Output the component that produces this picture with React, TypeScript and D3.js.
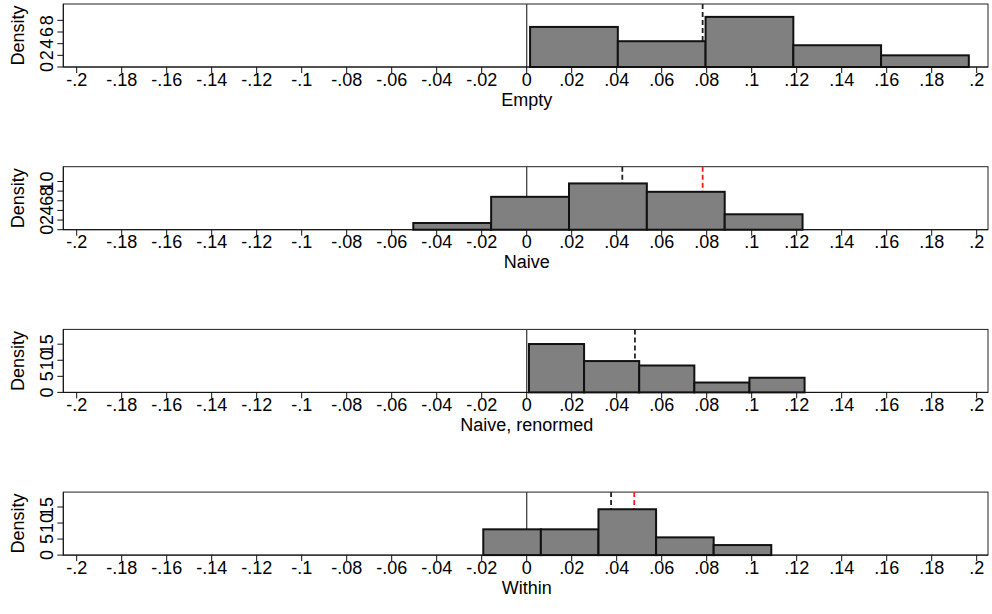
import React from "react";
import * as d3 from "d3";

// Panel titles
const titles = ["Empty", "Naive", "Naive, renormed", "Within"];

// Histogram bins: first bin edge and bin width per panel
const binStarts = [0.0015, -0.0504, 0.001, -0.0193];
const binWidths = [0.039, 0.0346, 0.0245, 0.0256];

// Bar densities per panel
const densities = [
  [6.87, 4.42, 8.59, 3.73, 2.0],
  [1.39, 6.82, 9.6, 7.86, 3.2],
  [15.05, 9.75, 8.37, 3.07, 4.56],
  [8.04, 8.04, 14.3, 5.53, 3.13],
];

// Reference lines: black dashed and red dashed (null when absent)
const blackLines = [0.0782, 0.0425, 0.0481, 0.0375];
const redLines: (number | null)[] = [null, 0.0782, null, 0.0478];

// Y axis range top and tick values
const yMaxes = [10.8, 13.07, 19.6, 19.65];
const yTicks = [
  [0, 2, 4, 6, 8],
  [0, 2, 4, 6, 8, 10],
  [0, 5, 10, 15],
  [0, 5, 10, 15],
];

// X axis ticks
const xTicks = [-0.2, -0.18, -0.16, -0.14, -0.12, -0.1, -0.08, -0.06, -0.04, -0.02, 0,
  0.02, 0.04, 0.06, 0.08, 0.1, 0.12, 0.14, 0.16, 0.18, 0.2];

const W = 992;
const H = 614;
const FONT = "'Liberation Sans', Arial, Helvetica, sans-serif";
const FS = 18;

const plotLeft = 63.3;
const plotRight = 988;
const panelTop0 = 4;
const panelStep = 162.7;
const panelHeight = 63;

// Stata-style numbers: no leading zero ("-.18", ".02", "0")
const fmt = (v: number) => {
  if (Math.abs(v) < 1e-9) return "0";
  const s = String(+v.toFixed(4));
  return s.replace(/^(-?)0\./, "$1.");
};

export default function App() {
  const x = d3.scaleLinear().domain([-0.2, 0.2]).range([76.7, 976.7]);

  return (
    <svg
      width={W}
      height={H}
      style={{ position: "absolute", left: 0, top: 0, background: "#fff" }}
      fontFamily={FONT}
    >
      <rect x={0} y={0} width={W} height={H} fill="#fff" />
      {titles.map((title, i) => {
        const top = panelTop0 + i * panelStep;
        const bottom = top + panelHeight;
        const y = d3.scaleLinear().domain([0, yMaxes[i]]).range([bottom, top]);
        const bins = densities[i].map((d, k) => ({
          x0: binStarts[i] + k * binWidths[i],
          x1: binStarts[i] + (k + 1) * binWidths[i],
          d,
        }));
        const red = redLines[i];
        return (
          <g key={title}>
            {/* plot frame */}
            <rect
              x={plotLeft}
              y={top}
              width={plotRight - plotLeft}
              height={panelHeight}
              fill="none"
              stroke="#222"
              strokeWidth={1}
            />
            {/* reference lines, drawn beneath the bars */}
            <line x1={x(0)} x2={x(0)} y1={top} y2={bottom} stroke="#444" strokeWidth={1.3} />
            <line
              x1={x(blackLines[i])}
              x2={x(blackLines[i])}
              y1={top}
              y2={bottom}
              stroke="#222"
              strokeWidth={1.8}
              strokeDasharray="5,3"
            />
            {red !== null && (
              <line
                x1={x(red)}
                x2={x(red)}
                y1={top}
                y2={bottom}
                stroke="#ff1a1a"
                strokeWidth={1.8}
                strokeDasharray="5,3"
              />
            )}
            {/* bars */}
            {bins.map((b, k) => (
              <rect
                key={k}
                x={x(b.x0)}
                y={y(b.d)}
                width={x(b.x1) - x(b.x0)}
                height={bottom - y(b.d)}
                fill="#808080"
                stroke="#111"
                strokeWidth={2}
              />
            ))}
            {/* x axis */}
            <line x1={plotLeft} x2={plotRight} y1={bottom} y2={bottom} stroke="#111" strokeWidth={1} />
            {xTicks.map((t) => (
              <g key={t}>
                <line x1={x(t)} x2={x(t)} y1={bottom} y2={bottom + 6} stroke="#111" strokeWidth={1} />
                <text x={x(t)} y={bottom + 18.5} textAnchor="middle" fontSize={FS} fill="#000">
                  {fmt(t)}
                </text>
              </g>
            ))}
            <text x={x(0)} y={bottom + 38.5} textAnchor="middle" fontSize={FS} fill="#000">
              {title}
            </text>
            {/* y axis */}
            <line x1={plotLeft} x2={plotLeft} y1={top} y2={bottom} stroke="#111" strokeWidth={1} />
            {yTicks[i].map((t) => (
              <g key={t}>
                <line x1={plotLeft - 6} x2={plotLeft} y1={y(t)} y2={y(t)} stroke="#111" strokeWidth={1} />
                <text
                  transform={`translate(${plotLeft - 10},${y(t)}) rotate(-90)`}
                  textAnchor="middle"
                  fontSize={FS}
                  fill="#000"
                >
                  {fmt(t)}
                </text>
              </g>
            ))}
            <text
              transform={`translate(24,${(top + bottom) / 2}) rotate(-90)`}
              textAnchor="middle"
              fontSize={FS}
              fill="#000"
            >
              Density
            </text>
          </g>
        );
      })}
    </svg>
  );
}
